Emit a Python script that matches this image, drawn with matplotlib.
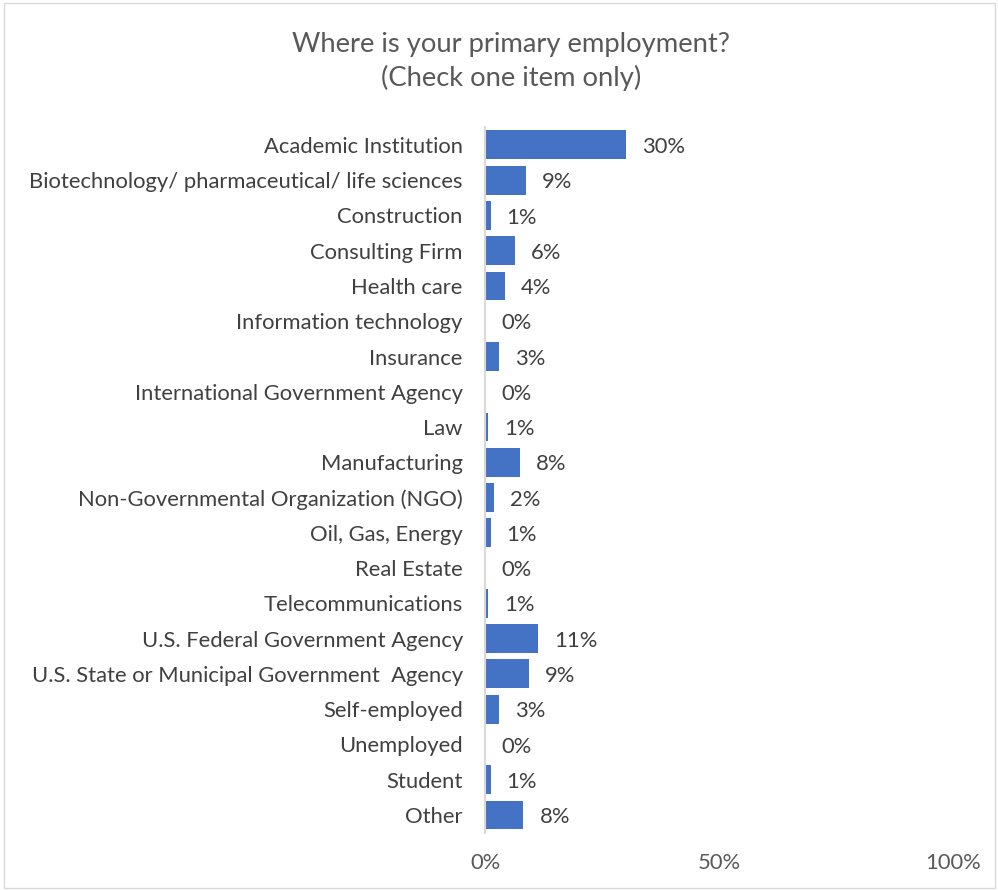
import numpy as np
import matplotlib.pyplot as plt
from matplotlib.patches import Rectangle

plt.rcParams['font.family'] = ['Lato', 'DejaVu Sans']

# Datos (porcentaje de respuestas)
categorias = ['Academic Institution',
              'Biotechnology/ pharmaceutical/ life sciences',
              'Construction',
              'Consulting Firm',
              'Health care',
              'Information technology',
              'Insurance',
              'International Government Agency',
              'Law',
              'Manufacturing',
              'Non-Governmental Organization (NGO)',
              'Oil, Gas, Energy',
              'Real Estate',
              'Telecommunications',
              'U.S. Federal Government Agency',
              'U.S. State or Municipal Government  Agency',
              'Self-employed',
              'Unemployed',
              'Student',
              'Other']
valores = [30.2, 8.8, 1.2, 6.3, 4.3, 0.0, 3.0, 0.0, 0.6, 7.5,
           1.9, 1.2, 0.0, 0.6, 11.3, 9.4, 3.0, 0.0, 1.2, 8.2]
ticks = [0, 50, 100]
titulo = 'Where is your primary employment?\n(Check one item only)'

fig = plt.figure(figsize=(9.98, 8.9), dpi=100)
ax = fig.add_axes([0.486, 0.0645, 0.469, 0.7925])

y = np.arange(len(categorias))
ax.barh(y, valores, height=0.82, color='#4472C4', edgecolor='none')
ax.set_ylim(len(categorias) - 0.5, -0.5)
ax.set_xlim(0, 100)

ax.set_yticks(y)
ax.set_yticklabels(categorias, fontsize=15.8, color='#404040')
ax.set_xticks(ticks)
ax.set_xticklabels([f'{t}%' for t in ticks], fontsize=15.8, color='#595959')
ax.tick_params(axis='both', length=0)
ax.tick_params(axis='y', pad=16)
ax.tick_params(axis='x', pad=15)

for s in ['top', 'right', 'bottom']:
    ax.spines[s].set_visible(False)
ax.spines['left'].set_color('#D9D9D9')
ax.spines['left'].set_linewidth(1.5)

# Etiquetas de datos
for yi, v in zip(y, valores):
    ax.annotate(f'{round(v):.0f}%', (v, yi), xytext=(11.5, -1.5), textcoords='offset points',
                va='center', ha='left', fontsize=15.8, color='#404040')

fig.text(0.512, 0.931, titulo, ha='center', va='center', fontsize=19.7,
         color='#595959', linespacing=1.4)

# Borde del gráfico
fig.patches.append(Rectangle((0.004, 0.002), 0.993, 0.995, transform=fig.transFigure,
                             fill=False, edgecolor='#D9D9D9', linewidth=1))

plt.savefig('out.png', dpi=100)
